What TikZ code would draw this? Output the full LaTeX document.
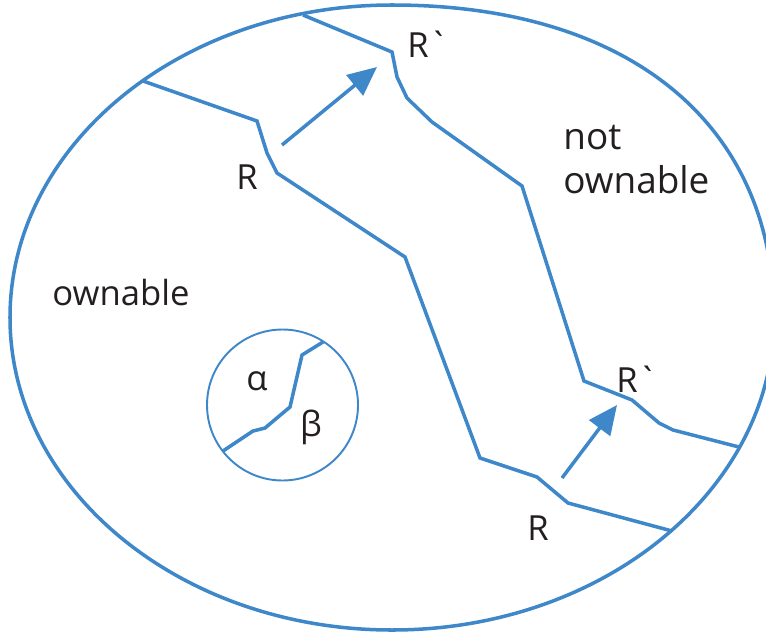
\documentclass[tikz,border=0pt]{standalone}
\usepackage{fontspec}
\setmainfont{Open Sans}[Ligatures=TeXOff]
\usetikzlibrary{arrows.meta}
\definecolor{regblue}{RGB}{62,136,202}
\definecolor{labelgray}{RGB}{35,31,32}
\begin{document}
\begin{tikzpicture}[x=0.02cm, y=-0.02cm, line join=miter,
  border/.style={regblue, line width=2pt},
  move/.style={regblue, line width=2pt, -{Triangle[length=0.58cm, width=0.52cm]}},
  lbl/.style={text=labelgray, font=\fontsize{19.7}{23}\selectfont, inner sep=0pt}]
  \useasboundingbox (0,0) rectangle (766,635);
  \draw[border] (392,5) .. controls (629,5) and (774,124) .. (774,317.5)
    .. controls (774,490) and (603,630) .. (392,630)
    .. controls (181,630) and (10,490) .. (10,317.5)
    .. controls (10,145) and (181,5) .. cycle;
  \draw[border] (143,81) -- (257,121) -- (267,153) -- (277,173) -- (405,257)
    -- (480,458) -- (537,477) -- (568,503) -- (672,531);
  \draw[border] (303,15) -- (392,52) -- (397,77) -- (407,98) -- (432,122)
    -- (522,186) -- (584,381) -- (632,400) -- (659,423) -- (673,430) -- (739,447);
  \coordinate (r1) at (282,145);
  \coordinate (r1') at (377,67);
  \coordinate (r2) at (562,478);
  \coordinate (r2') at (617,405);
  \draw[move] (r1) -- (r1');
  \draw[move] (r2) -- (r2');
  \draw[regblue, line width=1.1pt] (282.5,405) circle (75.5);
  \draw[border] (223,451) -- (253,431) -- (265,428) -- (290,407) -- (302,355) -- (323,342);
  \node[lbl] (rA) at (247,177) {R};
  \node[lbl] (rA') at (428,44) {R`};
  \node[lbl] (rB) at (538,528) {R};
  \node[lbl] (rB') at (637,379) {R`};
  \node[lbl] (own) at (121,293) {ownable};
  \node[lbl, font=\fontsize{21}{24.5}\selectfont, anchor=base west, align=left]
    (notown) at (563,193) {not\\ownable};
  \node[lbl] (alpha) at (257,381) {α};
  \node[lbl] (beta) at (311,427) {β};
\end{tikzpicture}
\end{document}
